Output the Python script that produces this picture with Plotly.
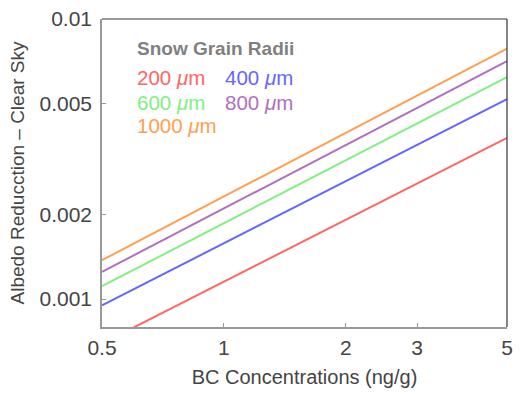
import plotly.graph_objects as go

bc = [0.5, 1, 2, 3, 5]
r200 = [0.000694, 0.001155, 0.001921, 0.002586, 0.003762]
r400 = [0.000950, 0.001583, 0.002637, 0.003556, 0.005178]
r600 = [0.001112, 0.001866, 0.003130, 0.004234, 0.006200]
r800 = [0.001251, 0.002107, 0.003550, 0.004814, 0.007071]
r1000 = [0.001377, 0.002323, 0.003925, 0.005328, 0.007842]

series = [("200", r200, "#ff6666"), ("400", r400, "#6666ff"), ("600", r600, "#80f080"),
          ("800", r800, "#b070c0"), ("1000", r1000, "#ffa050")]

x_ticks = [0.5, 1, 2, 3, 5]
x_ticklabels = ["0.5", "1", "2", "3", "5"]
y_ticks = [0.001, 0.002, 0.005, 0.01]
y_ticklabels = ["0.001", "0.002", "0.005", "0.01"]

fig = go.Figure()
for name, vals, col in series:
    fig.add_trace(go.Scatter(x=bc, y=vals, mode="lines", name=name + " μm",
                             line=dict(color=col, width=2), showlegend=False))

font = "Liberation Sans, Arial, sans-serif"
axis_common = dict(type="log", showgrid=False, zeroline=False, showline=True, mirror=False,
                   linecolor="#999", linewidth=1.5, ticks="inside", ticklen=4, tickcolor="#999",
                   tickwidth=1, tickfont=dict(size=21, color="#444", family=font))
fig.update_layout(
    width=520, height=394,
    margin=dict(l=102, r=7, t=18, b=67),
    plot_bgcolor="white", paper_bgcolor="white",
    xaxis=dict(range=[-0.30103, 0.69897], tickvals=x_ticks, ticktext=x_ticklabels,
               ticklabelstandoff=1,
               title=dict(text="BC Concentrations (ng/g)", font=dict(size=20, color="#444", family=font), standoff=12),
               **axis_common),
    yaxis=dict(range=[-3.0996, -2.0], tickvals=y_ticks, ticktext=y_ticklabels,
               ticklabelstandoff=4,
               title=dict(text="Albedo Reducction – Clear Sky", font=dict(size=19, color="#444", family=font), standoff=10),
               **axis_common),
)

# dark top and right frame edges
fig.add_shape(type="line", xref="paper", yref="paper", x0=0, x1=1, y0=1, y1=1,
              line=dict(color="#333", width=1.2))
fig.add_shape(type="line", xref="paper", yref="paper", x0=1, x1=1, y0=0, y1=1,
              line=dict(color="#333", width=1.2))

ann = [
    ("<b>Snow Grain Radii</b>", 135, 48, "#808080", 19),
    ("200 <i>μ</i>m", 135, 77, "#ff6666", 20.5),
    ("400 <i>μ</i>m", 225, 77, "#6666ff", 20.5),
    ("600 <i>μ</i>m", 135, 102, "#80f080", 20.5),
    ("800 <i>μ</i>m", 225, 102, "#b070c0", 20.5),
    ("1000 <i>μ</i>m", 135, 125, "#ffa050", 20.5),
]
for text, px, py, col, fs in ann:
    fig.add_annotation(text=text, xref="paper", yref="paper",
                       x=(px - 102) / 411, y=(327 - py) / 309,
                       xanchor="left", yanchor="middle", showarrow=False,
                       font=dict(size=fs, color=col, family=font))

fig.write_html("out.html", config={"displayModeBar": False},
               post_script="document.body.style.margin='0';document.body.style.overflow='hidden';")
